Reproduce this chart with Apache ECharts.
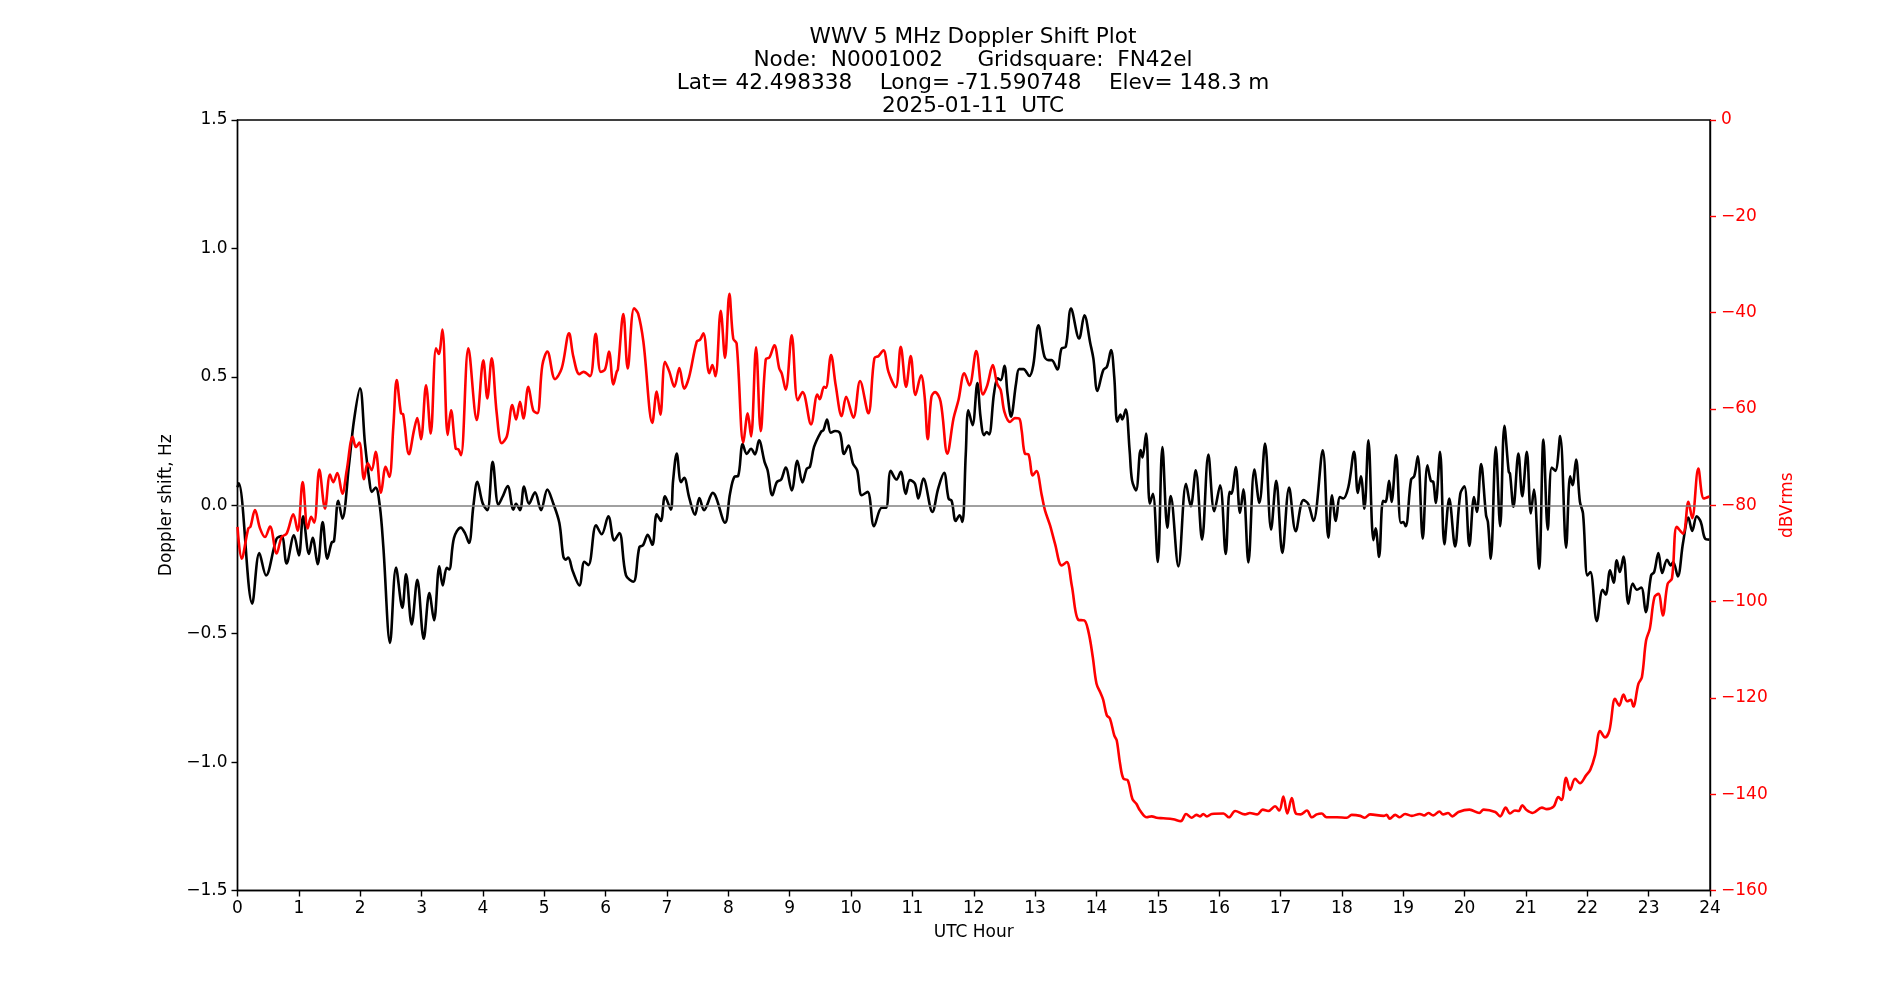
<!DOCTYPE html>
<html>
<head>
<meta charset="utf-8">
<title>WWV 5 MHz Doppler Shift Plot</title>
<script src="https://cdn.jsdelivr.net/npm/echarts@6/dist/echarts.min.js"></script>
<style>
  html, body { margin: 0; padding: 0; background: #fff; }
  #chart { width: 1900px; height: 1000px; }
</style>
</head>
<body>
<div id="chart"></div>
<script>
// Doppler shift (Hz): hour / value pairs
const shiftHours = [
  0.00, 0.02, 0.24, 0.356, 0.465, 0.638, 0.72, 0.80, 0.92, 1.00, 1.07, 1.165, 1.225, 1.307, 1.388, 1.464, 1.535, 1.573,
  1.643, 1.709, 1.817, 1.899, 1.997, 2.078, 2.149, 2.19, 2.252, 2.32, 2.377, 2.486, 2.584, 2.687, 2.747, 2.839, 2.931,
  3.035, 3.127, 3.203, 3.29, 3.345, 3.41, 3.45, 3.529, 3.638, 3.71, 3.773, 3.844, 3.909, 3.996, 4.072, 4.159, 4.252,
  4.32, 4.404, 4.496, 4.54, 4.605, 4.67, 4.751, 4.849, 4.947, 5.05, 5.148, 5.246, 5.31, 5.35, 5.39, 5.463, 5.572, 5.653,
  5.72, 5.844, 5.936, 6.044, 6.142, 6.224, 6.332, 6.452, 6.55, 6.61, 6.686, 6.762, 6.833, 6.9, 6.968, 7.061, 7.1, 7.159,
  7.229, 7.28, 7.36, 7.457, 7.528, 7.604, 7.746, 7.946, 8.028, 8.1, 8.16, 8.234, 8.3, 8.37, 8.435, 8.5, 8.59, 8.64,
  8.717, 8.79, 8.86, 8.935, 9.033, 9.125, 9.207, 9.28, 9.33, 9.397, 9.511, 9.55, 9.609, 9.67, 9.74, 9.82, 9.886, 9.96,
  10.03, 10.1, 10.174, 10.27, 10.375, 10.5, 10.57, 10.647, 10.74, 10.81, 10.891, 10.96, 11.04, 11.097, 11.179, 11.326,
  11.42, 11.516, 11.59, 11.64, 11.706, 11.77, 11.815, 11.87, 11.912, 11.98, 12.059, 12.11, 12.168, 12.21, 12.25, 12.33,
  12.39, 12.44, 12.5, 12.55, 12.608, 12.69, 12.74, 12.81, 12.907, 12.97, 13.054, 13.15, 13.22, 13.27, 13.363, 13.43,
  13.5, 13.586, 13.717, 13.803, 13.9, 13.95, 14.015, 14.11, 14.17, 14.238, 14.29, 14.34, 14.39, 14.42, 14.477, 14.54,
  14.58, 14.645, 14.72, 14.75, 14.809, 14.87, 14.92, 14.999, 15.075, 15.156, 15.21, 15.335, 15.46, 15.537, 15.618,
  15.721, 15.824, 15.92, 16.015, 16.107, 16.17, 16.2, 16.27, 16.34, 16.395, 16.476, 16.574, 16.655, 16.748, 16.846,
  16.93, 17.03, 17.14, 17.248, 17.373, 17.45, 17.536, 17.688, 17.78, 17.84, 17.9, 17.97, 18.02, 18.106, 18.199, 18.26,
  18.31, 18.367, 18.432, 18.514, 18.55, 18.606, 18.67, 18.71, 18.77, 18.81, 18.884, 18.96, 19.0, 19.04, 19.128, 19.18,
  19.237, 19.318, 19.394, 19.45, 19.49, 19.53, 19.6, 19.671, 19.75, 19.845, 19.93, 19.997, 20.078, 20.154, 20.2,
  20.269, 20.35, 20.38, 20.427, 20.509, 20.58, 20.649, 20.72, 20.74, 20.796, 20.877, 20.94, 21.014, 21.08, 21.13,
  21.214, 21.285, 21.356, 21.42, 21.48, 21.557, 21.655, 21.72, 21.76, 21.817, 21.88, 21.93, 22.002, 22.05, 22.155,
  22.25, 22.3, 22.372, 22.43, 22.48, 22.53, 22.59, 22.67, 22.74, 22.81, 22.88, 22.953, 23.04, 23.09, 23.159, 23.22,
  23.3, 23.36, 23.4, 23.475, 23.56, 23.648, 23.71, 23.784, 23.85, 23.92, 23.99
];
const shiftHz = [
  0.07, 0.085, -0.383, -0.186, -0.273, -0.13, -0.12, -0.227, -0.117, -0.195, -0.043, -0.19, -0.127, -0.23, -0.065, -0.208, -0.145, -0.14,
  0.017, -0.052, 0.156, 0.331, 0.455, 0.24, 0.097, 0.052, 0.069, -0.004, -0.162, -0.536, -0.243, -0.399, -0.269, -0.464, -0.29,
  -0.52, -0.342, -0.448, -0.238, -0.312, -0.244, -0.25, -0.127, -0.087, -0.11, -0.147, -0.004, 0.091, 0.008, -0.019, 0.169, 0.002,
  0.033, 0.075, -0.017, 0.006, -0.019, 0.073, 0.006, 0.05, -0.019, 0.061, 0.006, -0.069, -0.199, -0.212, -0.204, -0.256, -0.312, -0.22,
  -0.233, -0.078, -0.113, -0.043, -0.137, -0.108, -0.273, -0.298, -0.163, -0.156, -0.115, -0.154, -0.035, -0.061, 0.035, -0.017, 0.097, 0.201,
  0.09, 0.107, 0.032, -0.037, 0.028, -0.019, 0.048, -0.068, 0.046, 0.111, 0.114, 0.238, 0.2, 0.22, 0.198, 0.253, 0.169, 0.136,
  0.039, 0.09, 0.1, 0.147, 0.058, 0.173, 0.089, 0.143, 0.15, 0.227, 0.286, 0.292, 0.334, 0.282, 0.289, 0.28, 0.2, 0.232,
  0.163, 0.136, 0.039, 0.052, -0.082, -0.01, -0.01, 0.134, 0.1, 0.13, 0.044, 0.098, 0.085, 0.026, 0.104, -0.026,
  0.065, 0.126, 0.026, 0.017, -0.061, -0.039, -0.065, 0.2, 0.37, 0.312, 0.476, 0.345, 0.273, 0.285, 0.276, 0.435,
  0.494, 0.487, 0.543, 0.435, 0.345, 0.475, 0.53, 0.53, 0.503, 0.545, 0.701, 0.581, 0.565, 0.565, 0.529, 0.61,
  0.617, 0.766, 0.649, 0.74, 0.63, 0.571, 0.445, 0.526, 0.539, 0.604, 0.5, 0.325, 0.353, 0.334, 0.373, 0.215,
  0.097, 0.058, 0.215, 0.186, 0.279, 0.006, 0.045, -0.221, 0.227, -0.087, 0.036, -0.238, 0.084, -0.004, 0.136,
  -0.134, 0.197, -0.023, 0.078, -0.19, 0.052, 0.045, 0.149, -0.03, 0.062, -0.223, 0.139, 0.009, 0.24, -0.095,
  0.095, -0.186, 0.069, -0.101, 0.02, 0.006, -0.061, 0.214, -0.126, 0.039, -0.061, 0.032, 0.026, 0.071, 0.208, 0.048,
  0.113, -0.013, 0.253, -0.136, -0.09, -0.201, 0.017, 0.013, 0.095, 0.013, 0.195, -0.069, -0.065, -0.082, 0.1, 0.113,
  0.191, -0.13, 0.156, 0.095, 0.091, 0.009, 0.208, -0.152, 0.026, -0.16, 0.045, 0.074, -0.158, 0.032, -0.026,
  0.16, -0.039, -0.065, -0.208, 0.227, -0.082, 0.309, 0.13, 0.123, -0.006, 0.201, 0.035, 0.208, -0.032, 0.061,
  -0.247, 0.256, -0.095, 0.147, 0.134, 0.269, -0.165, 0.113, 0.078, 0.178, 0.013, -0.032, -0.273, -0.26, -0.451,
  -0.329, -0.348, -0.253, -0.302, -0.214, -0.26, -0.2, -0.383, -0.305, -0.329, -0.32, -0.416, -0.273, -0.26, -0.186, -0.264,
  -0.212, -0.234, -0.221, -0.277, -0.147, -0.048, -0.1, -0.043, -0.065, -0.13, -0.134
];

// Received level (dBVrms)
const levelHours = [
  0.00, 0.068, 0.176, 0.21, 0.285, 0.367, 0.448, 0.53, 0.638, 0.72, 0.80, 0.91, 0.98, 1.062, 1.144, 1.2, 1.25, 1.334,
  1.426, 1.508, 1.56, 1.627, 1.709, 1.78, 1.877, 1.93, 1.986, 2.062, 2.122, 2.186, 2.252, 2.339, 2.415, 2.475, 2.54,
  2.595, 2.665, 2.70, 2.795, 2.877, 2.93, 2.99, 3.073, 3.149, 3.236, 3.28, 3.339, 3.426, 3.48, 3.556, 3.6, 3.643,
  3.763, 3.9, 4.007, 4.072, 4.143, 4.225, 4.306, 4.39, 4.48, 4.54, 4.605, 4.66, 4.74, 4.82, 4.887, 4.969, 5.05,
  5.175, 5.284, 5.404, 5.475, 5.572, 5.64, 5.746, 5.838, 5.92, 5.99, 6.055, 6.126, 6.18, 6.2, 6.289, 6.36, 6.463,
  6.53, 6.615, 6.762, 6.833, 6.892, 6.968, 7.04, 7.12, 7.202, 7.28, 7.36, 7.485, 7.54, 7.593, 7.69, 7.74, 7.79,
  7.876, 7.946, 8.017, 8.08, 8.135, 8.245, 8.316, 8.37, 8.452, 8.528, 8.61, 8.67, 8.75, 8.83, 8.87, 8.935, 9.033,
  9.131, 9.21, 9.348, 9.451, 9.49, 9.56, 9.59, 9.674, 9.75, 9.848, 9.92, 10.038, 10.147, 10.282, 10.38, 10.45,
  10.527, 10.61, 10.728, 10.81, 10.897, 10.973, 11.05, 11.141, 11.2, 11.25, 11.31, 11.369, 11.46, 11.57, 11.67,
  11.75, 11.847, 11.93, 12.04, 12.15, 12.22, 12.31, 12.38, 12.44, 12.5, 12.592, 12.67, 12.74, 12.78, 12.836, 12.89,
  12.962, 13.02, 13.108, 13.16, 13.244, 13.325, 13.434, 13.515, 13.597, 13.706, 13.8, 13.87, 13.94, 14.0, 14.07,
  14.11, 14.168, 14.22, 14.29, 14.33, 14.385, 14.44, 14.51, 14.586, 14.65, 14.71, 14.82, 14.9, 14.98, 15.09, 15.25,
  15.374, 15.46, 15.55, 15.63, 15.69, 15.74, 15.8, 15.88, 16.07, 16.16, 16.26, 16.42, 16.5, 16.62, 16.71, 16.8,
  16.911, 16.98, 17.046, 17.11, 17.184, 17.25, 17.33, 17.43, 17.51, 17.59, 17.67, 17.75, 17.92, 18.08, 18.16, 18.3,
  18.37, 18.46, 18.68, 18.73, 18.78, 18.87, 18.94, 19.03, 19.14, 19.27, 19.34, 19.41, 19.49, 19.59, 19.65, 19.73,
  19.8, 19.9, 20.08, 20.24, 20.31, 20.5, 20.58, 20.67, 20.74, 20.82, 20.88, 20.94, 21.01, 21.11, 21.26, 21.34,
  21.45, 21.529, 21.58, 21.655, 21.72, 21.801, 21.88, 21.98, 22.05, 22.127, 22.209, 22.29, 22.36, 22.453, 22.52,
  22.59, 22.65, 22.71, 22.75, 22.833, 22.89, 22.958, 23.02, 23.094, 23.16, 23.23, 23.31, 23.38, 23.459, 23.56,
  23.648, 23.71, 23.81, 23.9, 23.99
];
const levelDb = [
  -84.5, -91.1, -84.8, -84.5, -81.0, -84.8, -86.6, -84.4, -90.0, -86.6, -85.9, -81.9, -85.3, -75.2, -84.8, -82.4, -83.6, -72.6,
  -80.7, -73.6, -75.2, -73.3, -77.6, -72.8, -65.8, -67.9, -67.0, -74.6, -71.3, -72.7, -68.9, -77.4, -72.0, -74.1, -63.7,
  -54.0, -60.9, -61.1, -69.4, -64.4, -61.9, -66.3, -55.1, -65.1, -47.4, -48.6, -43.5, -65.4, -60.3, -68.2, -68.4, -69.6,
  -47.4, -62.3, -49.9, -57.8, -49.5, -60.9, -67.1, -65.7, -59.2, -62.2, -58.5, -62.0, -55.4, -60.3, -60.9, -50.9, -48.1,
  -53.8, -51.6, -44.3, -49.2, -52.8, -52.3, -53.2, -44.4, -52.3, -51.8, -48.1, -54.9, -52.3, -51.8, -40.3, -51.6, -39.1,
  -40.2, -46.0, -62.9, -56.4, -61.2, -50.2, -52.3, -55.4, -51.5, -55.8, -53.4, -46.0, -45.6, -44.3, -52.6, -50.9, -53.2,
  -39.6, -49.4, -36.1, -45.4, -46.4, -67.0, -60.9, -65.7, -47.2, -64.6, -49.7, -49.3, -46.8, -51.6, -52.6, -56.0, -44.7,
  -58.2, -56.5, -63.2, -57.0, -58.0, -55.4, -55.6, -48.8, -55.1, -61.5, -57.5, -61.8, -54.2, -60.9, -49.5, -49.0,
  -47.8, -52.3, -55.5, -47.1, -55.4, -49.0, -57.1, -53.0, -57.5, -66.3, -57.5, -56.5, -58.5, -69.3, -62.0,
  -58.2, -52.6, -55.1, -48.0, -57.0, -55.1, -50.9, -54.7, -56.1, -60.6, -62.7, -61.9, -62.0, -64.4, -69.3, -69.4,
  -73.8, -72.9, -77.9, -81.0, -84.2, -88.0, -92.5, -91.8, -96.6, -103.8, -103.9, -106.3, -111.5, -117.0, -119.1,
  -120.4, -123.6, -124.3, -127.8, -128.8, -133.7, -136.8, -137.1, -141.0, -142.0, -143.4, -144.8, -144.6, -144.9, -145.0, -145.2,
  -145.6, -144.1, -144.9, -144.3, -144.6, -144.1, -144.6, -144.1, -144.0, -144.8, -143.5, -144.2, -143.9, -144.2, -143.2, -143.5,
  -142.5, -143.4, -140.5, -144.0, -140.8, -144.0, -144.2, -143.4, -144.8, -144.2, -144.0, -144.8, -144.8, -144.9, -144.3, -144.5,
  -144.9, -144.2, -144.5, -144.3, -145.1, -144.3, -144.8, -144.1, -144.5, -144.1, -144.4, -143.9, -144.4, -143.6, -144.2, -143.9,
  -144.6, -143.7, -143.2, -143.9, -143.2, -143.7, -144.6, -142.8, -144.0, -143.4, -143.5, -142.3, -143.3, -143.9, -142.8, -143.1,
  -142.6, -140.6, -141.2, -136.6, -139.1, -136.8, -137.7, -136.1, -134.9, -131.9, -126.9, -128.2, -126.8, -120.2, -121.6,
  -119.3, -120.7, -120.4, -121.8, -117.1, -115.7, -108.1, -105.6, -99.1, -98.4, -102.9, -96.3, -95.2, -84.5, -85.9,
  -79.3, -82.7, -72.4, -78.6, -78.2
];

const titleLines = [
  'WWV 5 MHz Doppler Shift Plot',
  'Node:  N0001002     Gridsquare:  FN42el',
  'Lat= 42.498338    Long= -71.590748    Elev= 148.3 m',
  '2025-01-11  UTC'
];

const FONT = 'DejaVu Sans';
const MINUS = '\u2212';

function pairs(xs, ys) {
  return xs.map((x, i) => [x, ys[i]]);
}

const chart = echarts.init(document.getElementById('chart'), null, { renderer: 'canvas' });

const option = {
  animation: false,
  backgroundColor: '#ffffff',
  textStyle: { fontFamily: FONT },
  title: {
    text: titleLines.join('\n'),
    left: 968,
    top: 21,
    textAlign: 'center',
    textStyle: {
      fontFamily: FONT,
      fontSize: 21.6,
      fontWeight: 'normal',
      color: '#000',
      lineHeight: 23
    }
  },
  grid: {
    left: 237.5,
    right: 190,
    top: 120,
    bottom: 109.5,
    show: true,
    borderColor: '#000',
    borderWidth: 1.4,
    backgroundColor: 'transparent'
  },
  xAxis: {
    type: 'value',
    min: 0,
    max: 24,
    interval: 1,
    name: 'UTC Hour',
    nameLocation: 'middle',
    nameGap: 34,
    nameTextStyle: { fontFamily: FONT, fontSize: 17, color: '#000' },
    axisLine: { show: true, onZero: false, lineStyle: { color: '#000', width: 1.4 } },
    axisTick: { show: true, length: 6, lineStyle: { color: '#000', width: 1.4 } },
    axisLabel: { fontFamily: FONT, fontSize: 17, color: '#000', margin: 10 },
    splitLine: { show: false }
  },
  yAxis: [
    {
      type: 'value',
      position: 'left',
      min: -1.5,
      max: 1.5,
      interval: 0.5,
      name: 'Doppler shift, Hz',
      nameLocation: 'middle',
      nameGap: 60,
      nameTextStyle: { fontFamily: FONT, fontSize: 17, color: '#000' },
      axisLine: { show: true, onZero: false, lineStyle: { color: '#000', width: 1.4 } },
      axisTick: { show: true, length: 6, lineStyle: { color: '#000', width: 1.4 } },
      axisLabel: {
        fontFamily: FONT, fontSize: 17, color: '#000', margin: 10,
        formatter: v => (v < 0 ? MINUS : '') + Math.abs(v).toFixed(1)
      },
      splitLine: { show: false }
    },
    {
      type: 'value',
      position: 'right',
      min: -160,
      max: 0,
      interval: 20,
      name: 'dBVrms',
      nameLocation: 'middle',
      nameGap: 64,
      nameRotate: 90,
      nameTextStyle: { fontFamily: FONT, fontSize: 17, color: '#ff0000' },
      axisLine: { show: true, onZero: false, lineStyle: { color: '#000', width: 1.4 } },
      axisTick: { show: true, length: 6, lineStyle: { color: '#ff0000', width: 1.4 } },
      axisLabel: {
        fontFamily: FONT, fontSize: 17, color: '#ff0000', margin: 11,
        formatter: v => (v < 0 ? MINUS : '') + Math.abs(v)
      },
      splitLine: { show: false }
    }
  ],
  series: [
    {
      name: 'Doppler shift',
      type: 'line',
      yAxisIndex: 0,
      data: pairs(shiftHours, shiftHz),
      showSymbol: false,
      smooth: 0.35,
      lineStyle: { color: '#000', width: 2.6 },
      z: 2,
      markLine: {
        silent: true,
        symbol: ['none', 'none'],
        label: { show: false },
        lineStyle: { color: '#808080', width: 1.7, type: 'solid' },
        data: [{ yAxis: 0 }]
      }
    },
    {
      name: 'Level',
      type: 'line',
      yAxisIndex: 1,
      data: pairs(levelHours, levelDb),
      showSymbol: false,
      smooth: 0.35,
      lineStyle: { color: '#ff0000', width: 2.6 },
      z: 3
    }
  ]
};

chart.setOption(option);
</script>
</body>
</html>
